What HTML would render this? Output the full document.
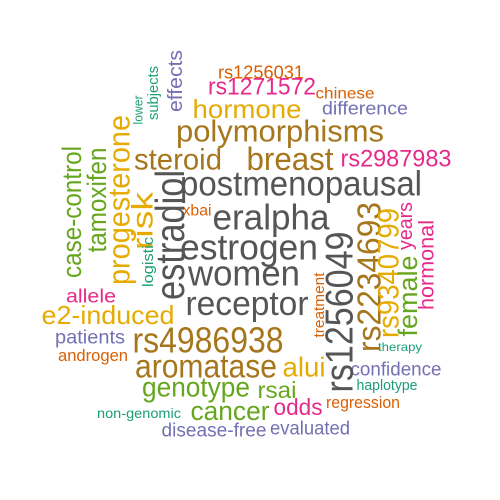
<!DOCTYPE html>
<html><head><meta charset="utf-8"><style>
html,body{margin:0;padding:0;background:#fff;}
svg{display:block;}
text{font-family:"Liberation Sans",Arial,sans-serif;}
</style></head><body>
<svg width="500" height="500" viewBox="0 0 500 500" font-family="Liberation Sans, Arial, sans-serif">
<rect width="500" height="500" fill="#fff"/>
<g dominant-baseline="central" text-anchor="middle">
<text x="261" y="72" font-size="18.5" fill="#D95F02" textLength="86" lengthAdjust="spacingAndGlyphs">rs1256031</text>
<text x="262" y="87" font-size="24" fill="#E7298A" textLength="108" lengthAdjust="spacingAndGlyphs">rs1271572</text>
<text x="345" y="94" font-size="16" fill="#D95F02" textLength="59" lengthAdjust="spacingAndGlyphs">chinese</text>
<text x="365" y="108" font-size="18.5" fill="#7570B3" textLength="86" lengthAdjust="spacingAndGlyphs">difference</text>
<text x="247" y="109" font-size="26" fill="#E6AB02" textLength="109" lengthAdjust="spacingAndGlyphs">hormone</text>
<text x="280" y="131" font-size="31" fill="#A6761D" textLength="208" lengthAdjust="spacingAndGlyphs">polymorphisms</text>
<text x="178" y="160" font-size="30" fill="#A6761D" textLength="88" lengthAdjust="spacingAndGlyphs">steroid</text>
<text x="290" y="159" font-size="32" fill="#A6761D" textLength="87" lengthAdjust="spacingAndGlyphs">breast</text>
<text x="396" y="159" font-size="24" fill="#E7298A" textLength="111" lengthAdjust="spacingAndGlyphs">rs2987983</text>
<text x="301" y="184" font-size="35" fill="#555555" textLength="242" lengthAdjust="spacingAndGlyphs">postmenopausal</text>
<text x="197" y="211" font-size="15.5" fill="#D95F02" textLength="29" lengthAdjust="spacingAndGlyphs">xbai</text>
<text x="271" y="217" font-size="36" fill="#555555" textLength="117" lengthAdjust="spacingAndGlyphs">eralpha</text>
<text x="249" y="247" font-size="36" fill="#555555" textLength="138" lengthAdjust="spacingAndGlyphs">estrogen</text>
<text x="244" y="273" font-size="36" fill="#555555" textLength="112" lengthAdjust="spacingAndGlyphs">women</text>
<text x="247" y="304" font-size="34" fill="#555555" textLength="123" lengthAdjust="spacingAndGlyphs">receptor</text>
<text x="91" y="297" font-size="19" fill="#E7298A" textLength="50" lengthAdjust="spacingAndGlyphs">allele</text>
<text x="108" y="315" font-size="26" fill="#E6AB02" textLength="133" lengthAdjust="spacingAndGlyphs">e2-induced</text>
<text x="90" y="338" font-size="19" fill="#7570B3" textLength="70" lengthAdjust="spacingAndGlyphs">patients</text>
<text x="208" y="340" font-size="36" fill="#A6761D" textLength="151" lengthAdjust="spacingAndGlyphs">rs4986938</text>
<text x="93" y="356" font-size="16.5" fill="#D95F02" textLength="70" lengthAdjust="spacingAndGlyphs">androgen</text>
<text x="206" y="366" font-size="33" fill="#A6761D" textLength="142" lengthAdjust="spacingAndGlyphs">aromatase</text>
<text x="304" y="367" font-size="27.5" fill="#E6AB02" textLength="43" lengthAdjust="spacingAndGlyphs">alui</text>
<text x="196" y="387" font-size="27.5" fill="#66A61E" textLength="108" lengthAdjust="spacingAndGlyphs">genotype</text>
<text x="277" y="390" font-size="23" fill="#66A61E" textLength="39" lengthAdjust="spacingAndGlyphs">rsai</text>
<text x="396" y="370" font-size="19" fill="#7570B3" textLength="91" lengthAdjust="spacingAndGlyphs">confidence</text>
<text x="387" y="386" font-size="14.5" fill="#1B9E77" textLength="61" lengthAdjust="spacingAndGlyphs">haplotype</text>
<text x="400" y="347" font-size="12" fill="#1B9E77" textLength="44" lengthAdjust="spacingAndGlyphs">therapy</text>
<text x="363" y="403" font-size="16.5" fill="#D95F02" textLength="74" lengthAdjust="spacingAndGlyphs">regression</text>
<text x="298" y="407" font-size="23" fill="#E7298A" textLength="49" lengthAdjust="spacingAndGlyphs">odds</text>
<text x="230" y="411" font-size="26.5" fill="#66A61E" textLength="79" lengthAdjust="spacingAndGlyphs">cancer</text>
<text x="139" y="413" font-size="14" fill="#1B9E77" textLength="84" lengthAdjust="spacingAndGlyphs">non-genomic</text>
<text x="214" y="431" font-size="19" fill="#7570B3" textLength="105" lengthAdjust="spacingAndGlyphs">disease-free</text>
<text x="310" y="429" font-size="19" fill="#7570B3" textLength="80" lengthAdjust="spacingAndGlyphs">evaluated</text>

<text transform="translate(176,81) rotate(-90)" font-size="20" fill="#7570B3" textLength="62" lengthAdjust="spacingAndGlyphs">effects</text>
<text transform="translate(154,93) rotate(-90)" font-size="14.5" fill="#1B9E77" textLength="54" lengthAdjust="spacingAndGlyphs">subjects</text>
<text transform="translate(138,110) rotate(-90)" font-size="13" fill="#1B9E77" textLength="29" lengthAdjust="spacingAndGlyphs">lower</text>
<text transform="translate(72,212) rotate(-90)" font-size="26.5" fill="#66A61E" textLength="132" lengthAdjust="spacingAndGlyphs">case-control</text>
<text transform="translate(97,200) rotate(-90)" font-size="26.5" fill="#66A61E" textLength="105" lengthAdjust="spacingAndGlyphs">tamoxifen</text>
<text transform="translate(119,200) rotate(-90)" font-size="31" fill="#E6AB02" textLength="170" lengthAdjust="spacingAndGlyphs">progesterone</text>
<text transform="translate(143,221) rotate(-90)" font-size="30" fill="#E6AB02" textLength="58" lengthAdjust="spacingAndGlyphs">risk</text>
<text transform="translate(149,262) rotate(-90)" font-size="14.5" fill="#1B9E77" textLength="50" lengthAdjust="spacingAndGlyphs">logistic</text>
<text transform="translate(170,235) rotate(-90)" font-size="41" fill="#555555" textLength="130" lengthAdjust="spacingAndGlyphs">estradiol</text>
<text transform="translate(340,312) rotate(-90)" font-size="39" fill="#555555" textLength="161" lengthAdjust="spacingAndGlyphs">rs1256049</text>
<text transform="translate(320,305) rotate(-90)" font-size="14.5" fill="#D95F02" textLength="65" lengthAdjust="spacingAndGlyphs">treatment</text>
<text transform="translate(369,277) rotate(-90)" font-size="33" fill="#A6761D" textLength="150" lengthAdjust="spacingAndGlyphs">rs2234693</text>
<text transform="translate(389,273) rotate(-90)" font-size="29.5" fill="#E6AB02" textLength="130" lengthAdjust="spacingAndGlyphs">rs9340799</text>
<text transform="translate(408,296) rotate(-90)" font-size="26.5" fill="#66A61E" textLength="81" lengthAdjust="spacingAndGlyphs">female</text>
<text transform="translate(406,226) rotate(-90)" font-size="20" fill="#E7298A" textLength="48" lengthAdjust="spacingAndGlyphs">years</text>
<text transform="translate(427,265) rotate(-90)" font-size="21" fill="#E7298A" textLength="90" lengthAdjust="spacingAndGlyphs">hormonal</text>
</g>
</svg>
</body></html>
